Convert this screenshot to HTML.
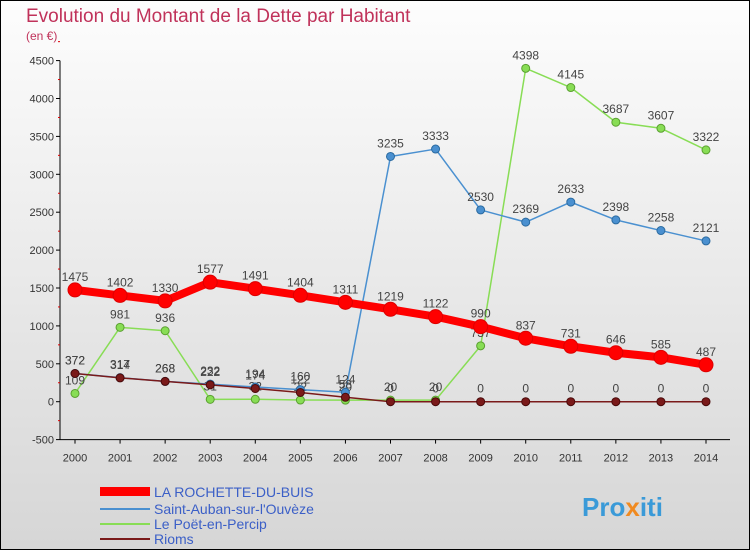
<!DOCTYPE html>
<html><head><meta charset="utf-8"><style>
body{margin:0;width:750px;height:550px;overflow:hidden;font-family:"Liberation Sans",sans-serif}
#wrap{position:absolute;left:0;top:0;width:748px;height:548px;border:1px solid #000;background:linear-gradient(#fdfdfd,#d6d6d6)}
</style></head><body>
<div id="wrap">
<svg id="chart" width="750" height="550" style="position:absolute;left:-1px;top:-1px">
<text x="26" y="22" font-size="19" fill="#c0325a">Evolution du Montant de la Dette par Habitant</text>
<text x="26" y="40" font-size="12" fill="#c0325a">(en €)</text>
<g id="axes"></g><g id="series"></g>
<g>
<rect x="100" y="487" width="50" height="9" fill="#f00"/>
<text x="154" y="497" font-size="14" fill="#3b5fc7">LA ROCHETTE-DU-BUIS</text>
<rect x="100" y="508" width="50" height="2" fill="#4a90d0"/>
<text x="154" y="514" font-size="14" fill="#3b5fc7">Saint-Auban-sur-l'Ouvèze</text>
<rect x="100" y="523" width="50" height="2" fill="#88dd55"/>
<text x="154" y="529" font-size="14" fill="#3b5fc7">Le Poët-en-Percip</text>
<rect x="100" y="538" width="50" height="2" fill="#7a1a1a"/>
<text x="154" y="544" font-size="14" fill="#3b5fc7">Rioms</text>
</g>
<text x="582" y="516" font-size="26" font-weight="bold" fill="#3a9ad8">Pro<tspan fill="#f08a20">x</tspan>iti</text>
</svg>
</div>
<script>
const years=[2000,2001,2002,2003,2004,2005,2006,2007,2008,2009,2010,2011,2012,2013,2014];
const yTicks=[-500,0,500,1000,1500,2000,2500,3000,3500,4000,4500];
const rochette=[1475,1402,1330,1577,1491,1404,1311,1219,1122,990,837,731,646,585,487];
const saintAuban=[372,317,268,232,194,160,124,3235,3333,2530,2369,2633,2398,2258,2121];
const poet=[109,981,936,31,32,22,20,20,20,737,4398,4145,3687,3607,3322];
const rioms=[372,314,268,222,174,122,58,0,0,0,0,0,0,0,0];
const NS='http://www.w3.org/2000/svg';
const xS=i=>75+i*(706-75)/(years.length-1);
const yS=v=>401.7-v*75.8/1000;
function mk(t,a,p){const e=document.createElementNS(NS,t);for(const k in a)e.setAttribute(k,a[k]);p.appendChild(e);return e;}
const ax=document.getElementById('axes');
const yl=mk('line',{x1:60,x2:60,y1:yS(4500),y2:yS(-500),stroke:'#000'},ax);


const xl=mk('line',{x1:60,x2:730,y1:yS(-500),y2:yS(-500),stroke:'#000'},ax);


yTicks.forEach(v=>{
 mk('line',{x1:56,x2:60,y1:yS(v),y2:yS(v),stroke:'#000'},ax);
 mk('line',{x1:58,x2:60,y1:yS(v+250),y2:yS(v+250),stroke:'#d00'},ax);
 const t=mk('text',{x:54,y:yS(v)+4,'font-size':11,'text-anchor':'end',fill:'#333'},ax);t.textContent=v;
 
 
});
years.forEach((y,i)=>{
 mk('line',{x1:xS(i),x2:xS(i),y1:yS(-500),y2:yS(-500)+4,stroke:'#000'},ax);
 const t=mk('text',{x:xS(i),y:yS(-500)+22,'font-size':11,'text-anchor':'middle',fill:'#333'},ax);t.textContent=y;
 
 
});
const sg=document.getElementById('series');
function series(data,color,lw,r,name,dotStroke){
 const g=mk('g',{},sg);
 
 
 mk('polyline',{points:data.map((v,i)=>xS(i)+','+yS(v)).join(' '),fill:'none',stroke:color,'stroke-width':lw,'stroke-linejoin':'round'},g);
 data.forEach((v,i)=>{
  const c=mk('circle',{cx:xS(i),cy:yS(v),r:r,fill:color,stroke:dotStroke,'stroke-width':1},g);
  
  
  const t=mk('text',{x:xS(i),y:yS(v)-9,'font-size':12,'text-anchor':'middle',fill:'#444'},g);t.textContent=v;
  
  
 });
}
series(poet,'#88dd55',1.5,4,'series-le-poet','#5aa030');
series(saintAuban,'#4a90d0',1.5,4,'series-saint-auban','#2a6aa0');
series(rochette,'#f00',8,7,'series-la-rochette','#d00');
series(rioms,'#7a1a1a',1.5,4,'series-rioms','#4a0a0a');
</script>
</body></html>
